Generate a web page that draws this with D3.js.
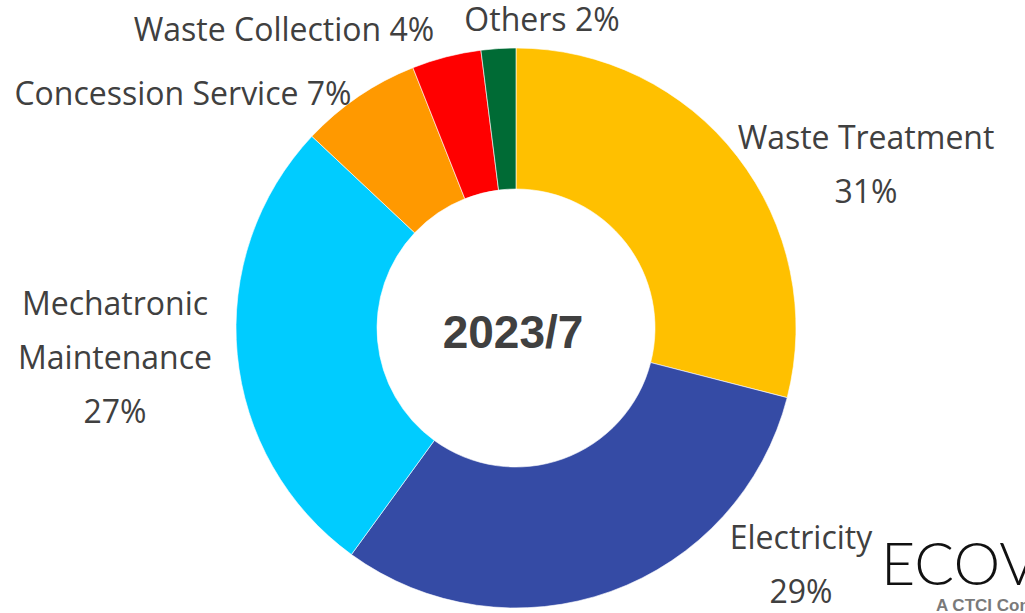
<!DOCTYPE html>
<meta charset="UTF-8">
<head>
    <title>2023/7</title>
</head>
<style>
    body {
        margin: 0;
        background: #fff;
    }

    .label {
        font-family: "Open Sans", "Noto Sans", sans-serif;
        font-size: 32px;
        fill: #404040;
    }
</style>
<body>
    <div id="chart"></div>
    <script src="https://cdnjs.cloudflare.com/ajax/libs/d3/7.8.5/d3.min.js"></script>
    <script>
        // slices, clockwise from 12 o'clock
        const categories = ['Waste Treatment', 'Electricity', 'Mechatronic Maintenance', 'Concession Service', 'Waste Collection', 'Others'];
        const values = [29, 31, 27, 7, 4, 2];
        // percentage text as printed on the chart
        const percentLabels = ['31%', '29%', '27%', '7%', '4%', '2%'];
        const colors = ['#FFC000', '#354BA5', '#00CCFF', '#FF9900', '#FF0000', '#006B35'];

        var w = 1025;
        var h = 613;
        var cx = 516, cy = 328;
        var outerR = 280, innerR = 139;

        // label lines and where they sit
        const labelLines = [
            ['Waste Treatment', '31%'],
            ['Electricity', '29%'],
            ['Mechatronic', 'Maintenance', '27%'],
            ['Concession Service 7%'],
            ['Waste Collection 4%'],
            ['Others 2%']
        ];
        const labelPos = [[866, 149], [801, 549], [115, 315], [183, 105], [284, 41], [542, 31]];
        const lineH = 54;

        var svg = d3.select('#chart')
            .append('svg')
            .attr('width', w)
            .attr('height', h);

        var pie = d3.pie().sort(null).value(d => d);
        var arc = d3.arc().innerRadius(innerR).outerRadius(outerR);

        var g = svg.append('g').attr('transform', `translate(${cx},${cy})`);
        g.selectAll('path')
            .data(pie(values))
            .enter()
            .append('path')
            .attr('d', arc)
            .attr('fill', (d, i) => colors[i])
            .attr('stroke', '#fff')
            .attr('stroke-width', 0.6);

        // labels
        labelLines.forEach((lines, i) => {
            var t = svg.append('text')
                .attr('class', 'label')
                .attr('text-anchor', 'middle');
            lines.forEach((line, j) => {
                t.append('tspan')
                    .attr('x', labelPos[i][0])
                    .attr('y', labelPos[i][1] + j * lineH)
                    .text(line);
            });
        });

        // centre title
        svg.append('text')
            .attr('x', cx - 3)
            .attr('y', 348)
            .attr('text-anchor', 'middle')
            .attr('font-family', '"Liberation Sans", Arial, sans-serif')
            .attr('font-weight', 'bold')
            .attr('font-size', 46)
            .attr('fill', '#404040')
            .text('2023/7');

        // logo in the corner (cut off by the page edge, as in the original)
        svg.append('text')
            .attr('x', 881)
            .attr('y', 585)
            .attr('font-family', 'Lato, sans-serif')
            .attr('font-weight', 300)
            .attr('font-size', 59)
            .attr('fill', '#111')
            .text('ECOVE');
        svg.append('text')
            .attr('x', 936)
            .attr('y', 611)
            .attr('font-family', '"Liberation Sans", Arial, sans-serif')
            .attr('font-weight', 'bold')
            .attr('font-size', 17)
            .attr('fill', '#7a7a7a')
            .text('A CTCI Company');
    </script>
</body>
</html>
